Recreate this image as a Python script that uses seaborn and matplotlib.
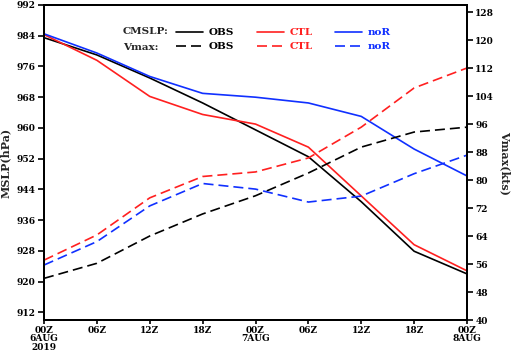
import matplotlib
matplotlib.use("Agg")
import matplotlib.pyplot as plt
import seaborn as sns
import pandas as pd
from matplotlib.lines import Line2D

sns.set_theme(style="ticks")
plt.rcParams['font.family'] = ['DejaVu Serif']
plt.rcParams['font.weight'] = 'bold'

# 时间（小时，自 6AUG 00Z 起）
hours = [0, 6, 12, 18, 24, 30, 36, 42, 48]
tick_labels = ["00Z\n6AUG\n2019", "06Z", "12Z", "18Z", "00Z\n7AUG", "06Z", "12Z", "18Z", "00Z\n8AUG"]

# 中心海平面气压 (hPa)
mslp_obs = [983.5, 979.0, 973.0, 966.5, 959.5, 952.5, 940.8, 927.9, 922.0]
mslp_ctl = [984.3, 977.6, 968.2, 963.5, 961.0, 955.0, 942.3, 929.6, 922.8]
mslp_nor = [984.5, 979.5, 973.4, 969.0, 968.0, 966.5, 963.0, 954.5, 947.5]

# 最大风速 (kts)
vmax_obs = [51.9, 56.2, 64.0, 70.3, 75.5, 82.0, 89.4, 93.7, 95.1]
vmax_ctl = [57.1, 64.3, 74.9, 81.0, 82.3, 86.3, 95.1, 106.3, 112.0]
vmax_nor = [55.7, 62.4, 72.6, 79.0, 77.4, 73.7, 75.4, 81.8, 87.1]

names = ["OBS", "CTL", "noR"]
colors = ["black", "#ff2020", "#1030ff"]

fig = plt.figure(figsize=(5.12, 3.53), dpi=100)
ax = fig.add_axes([44 / 512, 1 - 320 / 353, 423 / 512, 315 / 353])
ax2 = ax.twinx()

for name, col, y in zip(names, colors, [mslp_obs, mslp_ctl, mslp_nor]):
    df = pd.DataFrame({"t": hours, "v": y})
    sns.lineplot(data=df, x="t", y="v", ax=ax, color=col, linewidth=1.2)

for name, col, y in zip(names, colors, [vmax_obs, vmax_ctl, vmax_nor]):
    df = pd.DataFrame({"t": hours, "v": y})
    sns.lineplot(data=df, x="t", y="v", ax=ax2, color=col, linewidth=1.2,
                 dashes=False).lines[-1].set_dashes((6, 3))

ax.set_xlim(0, 48)
ax.set_ylim(910, 992)
ax2.set_ylim(40, 130)
ax.set_xticks(hours)
ax.set_xticklabels(tick_labels, fontsize=6.5, fontweight='bold', linespacing=0.95)
ax.set_yticks(range(912, 993, 8))
ax.set_yticklabels([str(v) for v in range(912, 993, 8)], fontsize=6.5, fontweight='bold')
ax2.set_yticks(range(40, 129, 8))
ax2.set_yticklabels([str(v) for v in range(40, 129, 8)], fontsize=6.5, fontweight='bold')
ax.set_xlabel("")
ax.set_ylabel("MSLP(hPa)", fontsize=8, fontweight='bold', labelpad=4)
ax2.set_ylabel("Vmax(kts)", fontsize=8, fontweight='bold', rotation=270, labelpad=12)

for a in (ax, ax2):
    for s in a.spines.values():
        s.set_linewidth(1.4)
        s.set_color("black")
    a.tick_params(axis='both', direction='out', length=4, width=1.2, pad=2, colors='black')
ax.tick_params(axis='x', length=3, pad=1)

# 图例
handles = []
for col in colors:
    handles.append(Line2D([], [], color=col, linewidth=1.2))
    handles.append(Line2D([], [], color=col, linewidth=1.2, dashes=(6, 3)))
labels = ["OBS", "OBS", "CTL", "CTL", "noR", "noR"]
leg = ax.legend(handles, labels, ncol=3, frameon=False, loc='upper left',
                bbox_to_anchor=(0.298, 0.947), handlelength=2.6,
                columnspacing=2.2, handletextpad=0.5, labelspacing=0.45,
                borderaxespad=0.2, prop={'weight': 'bold', 'size': 7.5})
for txt, c in zip(leg.get_texts(), ["black", "black", "#ff2020", "#ff2020", "#1030ff", "#1030ff"]):
    txt.set_color(c)
fig.text(123 / 512, 1 - 32 / 353, "CMSLP:", fontsize=7.5, fontweight='bold', va='center')
fig.text(123 / 512, 1 - 47 / 353, "Vmax:", fontsize=7.5, fontweight='bold', va='center')

fig.savefig("out.png", dpi=100)
